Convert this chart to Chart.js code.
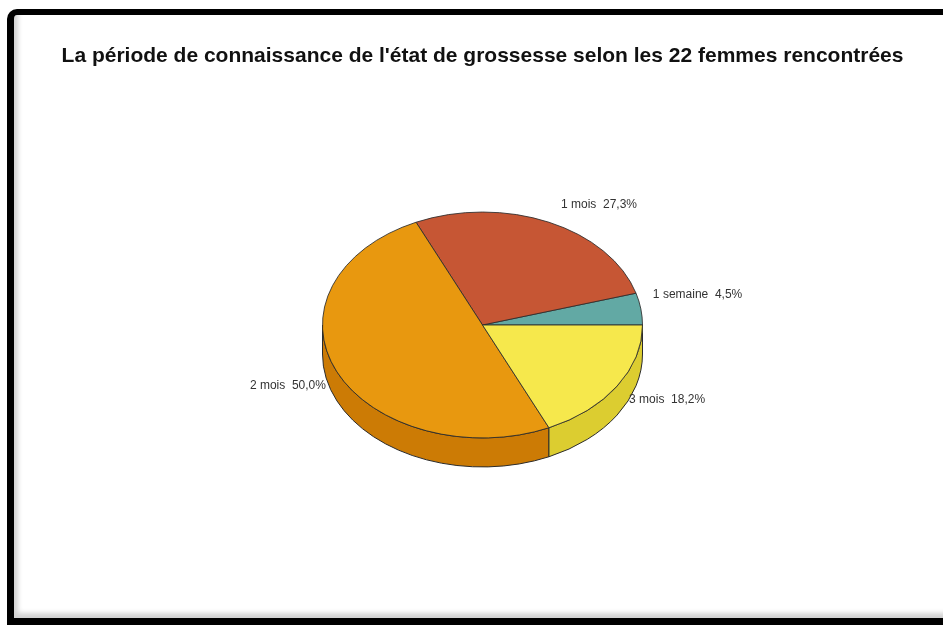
<!DOCTYPE html>
<html lang="fr">
<head>
    <meta charset="UTF-8">
    <title>Période de connaissance de l'état de grossesse</title>
    <script src="https://cdn.jsdelivr.net/npm/chart.js"></script>
    <style>
        html, body { margin: 0; padding: 0; background: #fff; overflow: hidden; width: 943px; height: 625px; }
        #frame {
            position: absolute; left: 7px; top: 9px; width: 960px; height: 603px;
            border-left: 7px solid #000; border-top: 6px solid #000; border-bottom: 7px solid #000;
            border-top-left-radius: 10px;
            box-shadow: inset 4px -5px 5px rgba(0, 0, 0, 0.18);
            background: #fff;
        }
        #pie { position: absolute; left: 11px; top: 0; }
    </style>
</head>
<body>
    <div id="frame"></div>
    <canvas id="pie" width="943" height="625"></canvas>

    <script>
        // data (22 women)
        const categories = ["1 semaine", "1 mois", "2 mois", "3 mois"];
        const counts = [1, 6, 11, 4];

        const topColors = ["#62a9a4", "#c65634", "#e8980f", "#f6e84c"];
        const sideColors = ["#4a8c88", "#a8442a", "#cc7b05", "#dccd30"];
        const squash = 0.706;   // ellipse height / width
        const depth = 29;       // thickness of the pie

        const total = counts.reduce((a, b) => a + b, 0);
        const pctText = v => (v / total * 100).toFixed(1).replace(".", ",") + "%";

        // draws the pie as a tilted disc: sides first, flattened top, then labels
        const tiltPlugin = {
            id: "tilt",
            beforeDatasetsDraw(chart) {
                const ctx = chart.ctx;
                const arcs = chart.getDatasetMeta(0).data;
                arcs.forEach((arc, i) => {
                    const a = Math.max(arc.startAngle, Math.PI);
                    const b = Math.min(arc.endAngle, 2 * Math.PI);
                    if (a >= b) return;
                    const r = arc.outerRadius, cx = arc.x, cy = arc.y;
                    ctx.save();
                    ctx.beginPath();
                    ctx.ellipse(cx, cy, r, r * squash, 0, -a, -b, true);
                    ctx.ellipse(cx, cy + depth, r, r * squash, 0, -b, -a, false);
                    ctx.closePath();
                    ctx.fillStyle = sideColors[i];
                    ctx.fill();
                    ctx.lineWidth = 1;
                    ctx.strokeStyle = "#2b2b2b";
                    ctx.stroke();
                    ctx.restore();
                });
            },
            beforeDatasetDraw(chart) {
                const arc = chart.getDatasetMeta(0).data[0];
                const ctx = chart.ctx;
                ctx.save();
                ctx.translate(arc.x, arc.y);
                ctx.scale(1, -squash);
                ctx.translate(-arc.x, -arc.y);
            },
            afterDatasetDraw(chart) {
                chart.ctx.restore();
            },
            afterDatasetsDraw(chart) {
                const ctx = chart.ctx;
                const arcs = chart.getDatasetMeta(0).data;
                ctx.save();
                ctx.font = "12px 'Liberation Sans', Arial, sans-serif";
                ctx.fillStyle = "#333";
                arcs.forEach((arc, i) => {
                    const mid = (arc.startAngle + arc.endAngle) / 2;
                    const r = arc.outerRadius;
                    const px = arc.x + r * Math.cos(mid);
                    const py = arc.y - r * squash * Math.sin(mid);
                    const right = Math.cos(mid) >= 0;
                    const up = Math.sin(mid) > 0;
                    ctx.textAlign = right ? "left" : "right";
                    ctx.textBaseline = "middle";
                    const x = px + (right ? 12 : -11);
                    const y = py + (up ? -14 - 4 * Math.sin(mid) : 14);
                    ctx.fillText(categories[i] + "  " + pctText(counts[i]), x, y);
                });
                ctx.restore();
            }
        };

        new Chart(document.getElementById("pie"), {
            type: "pie",
            data: {
                labels: categories,
                datasets: [{
                    data: counts,
                    backgroundColor: topColors,
                    borderColor: "#2b2b2b",
                    borderWidth: 1
                }]
            },
            options: {
                responsive: false,
                animation: false,
                rotation: 90,
                layout: { padding: { left: 0, right: 0, top: 0, bottom: 139.5 } },
                plugins: {
                    legend: { display: false },
                    tooltip: { enabled: false },
                    title: {
                        display: true,
                        text: "La période de connaissance de l'état de grossesse selon les 22 femmes rencontrées",
                        color: "#111",
                        font: { family: "'Liberation Sans', Arial, sans-serif", size: 21, weight: "bold" },
                        padding: { top: 44, bottom: 95.3 }
                    }
                }
            },
            plugins: [tiltPlugin]
        });
    </script>
</body>
</html>
